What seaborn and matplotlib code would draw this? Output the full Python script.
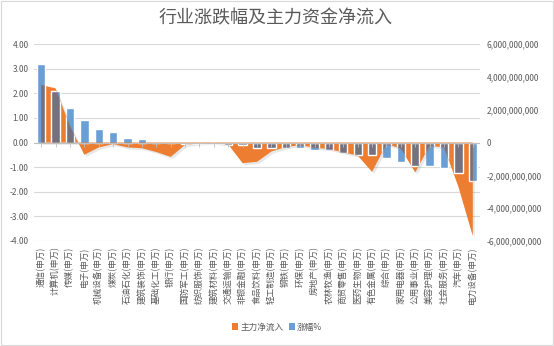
import numpy as np
import pandas as pd
import matplotlib
matplotlib.use("Agg")
import matplotlib.pyplot as plt
import matplotlib.patheffects as pe
from matplotlib.patches import Rectangle, Patch
from matplotlib.ticker import FuncFormatter
import seaborn as sns

categories = ["通信(申万)", "计算机(申万)", "传媒(申万)", "电子(申万)", "机械设备(申万)",
              "煤炭(申万)", "石油石化(申万)", "建筑装饰(申万)", "基础化工(申万)", "银行(申万)",
              "国防军工(申万)", "纺织服饰(申万)", "建筑材料(申万)", "交通运输(申万)", "非银金融(申万)",
              "食品饮料(申万)", "轻工制造(申万)", "钢铁(申万)", "环保(申万)", "房地产(申万)",
              "农林牧渔(申万)", "商贸零售(申万)", "医药生物(申万)", "有色金属(申万)", "综合(申万)",
              "家用电器(申万)", "公用事业(申万)", "美容护理(申万)", "社会服务(申万)", "汽车(申万)",
              "电力设备(申万)"]
pct_change = [3.18, 2.10, 1.42, 0.91, 0.54, 0.43, 0.18, 0.15, -0.04, -0.03,
              -0.08, -0.08, -0.08, -0.10, -0.10, -0.23, -0.24, -0.24, -0.24, -0.30,
              -0.30, -0.43, -0.51, -0.51, -0.61, -0.81, -0.95, -0.95, -1.04, -1.22,
              -1.56]
net_inflow = [3.5e9, 3.3e9, 1.0e9, -0.75e9, -0.3e9, -0.1e9, -0.3e9, -0.35e9, -0.58e9, -0.88e9,
              -0.15e9, -0.05e9, -0.02e9, -0.12e9, -1.26e9, -1.18e9, -0.55e9, -0.28e9, -0.16e9, -0.32e9,
              -0.4e9, -0.6e9, -0.8e9, -1.79e9, -0.1e9, -0.37e9, -1.83e9, -0.2e9, -0.3e9, -2.7e9,
              -5.7e9]
left_ticks = [-4, -3, -2, -1, 0, 1, 2, 3, 4]
right_ticks = [-6e9, -4e9, -2e9, 0, 2e9, 4e9, 6e9]

title = "行业涨跌幅及主力资金净流入"
legend_labels = ["主力净流入", "涨幅%"]

BLUE = "#6A9FD6"
ORANGE = "#ED7D31"
GRAY_OVER = "#75717E"
TXT = "#595959"
GRID = "#D9D9D9"

sns.set_style("white")
plt.rcParams["font.family"] = ["Noto Sans CJK SC", "DejaVu Sans"]
plt.rcParams["axes.unicode_minus"] = False

df = pd.DataFrame({"行业": categories, "涨幅": pct_change, "净流入": net_inflow})
n = len(categories)
xpos = np.arange(n)

fig, ax = plt.subplots(figsize=(5.54, 3.46), dpi=100)
fig.subplots_adjust(left=34 / 554, right=480 / 554, bottom=1 - 241 / 346, top=1 - 44 / 346)

# bars (left axis)
sns.barplot(data=df, x="行业", y="涨幅", color=BLUE, width=0.58, saturation=1, ax=ax, zorder=2)
ax.set_ylim(-4, 4)
ax.set_yticks(left_ticks)
ax.yaxis.set_major_formatter(FuncFormatter(lambda v, p: f"{v:.2f}"))
ax.yaxis.grid(True, color=GRID, lw=0.8, zorder=0)
ax.set_axisbelow(True)
ax.set_xlabel("")
ax.set_ylabel("")

# area (right axis)
ax2 = ax.twinx()
poly = ax2.fill_between(xpos, net_inflow, 0, color=ORANGE, lw=0, zorder=2)
poly.set_path_effects([pe.SimplePatchShadow(offset=(1.5, -1.5), shadow_rgbFace="#808080", alpha=0.18),
                       pe.Normal()])
ax2.set_ylim(-6e9, 6e9)
ax2.set_yticks(right_ticks)
ax2.yaxis.set_major_formatter(FuncFormatter(lambda v, p: f"{v:,.0f}"))

# overlapping part of bars (greyed where they lie inside the area)
ax3 = ax.twinx()
sns.barplot(data=df, x="行业", y="涨幅", color=GRAY_OVER, width=0.58, saturation=1, ax=ax3, zorder=3)
ax3.set_ylim(-4, 4)
ax3.set_yticks([])
ax3.set_ylabel("")
ax3.set_xlabel("")
clip_path = poly.get_paths()[0]
for patch in ax3.patches:
    patch.set_clip_path(clip_path, ax2.transData)
ax3.axhline(0, color="#BFBFBF", lw=0.8, zorder=4)
ax3.plot(xpos, np.zeros(n), ls="none", marker=3, ms=3, mew=0.6, color="#BFBFBF", zorder=4)

for a in (ax, ax2, ax3):
    for s in a.spines.values():
        s.set_visible(False)
    a.tick_params(length=0)

ax.set_xlim(-0.5, n - 0.5)
ax.set_xticks(xpos)
ax.set_xticklabels(categories, rotation=90, fontsize=6.2, color=TXT)
ax.tick_params(axis="x", pad=4)
ax.tick_params(axis="y", labelsize=6, labelcolor=TXT, pad=4)
ax2.tick_params(axis="y", labelsize=6, labelcolor=TXT, pad=5)

fig.text(0.497, 1 - 18 / 346, title, ha="center", va="center", fontsize=13, color=TXT)

handles = [Patch(facecolor=ORANGE, edgecolor="none"), Patch(facecolor=BLUE, edgecolor="none")]
fig.legend(handles, legend_labels, loc="center", bbox_to_anchor=(0.5, 1 - 327 / 346), ncol=2,
           frameon=False, fontsize=6.2, handlelength=0.7, handleheight=0.7,
           handletextpad=0.3, columnspacing=0.6, labelcolor=TXT)

fig.patches.append(Rectangle((0.002, 0.003), 0.996, 0.994, transform=fig.transFigure,
                             fill=False, edgecolor="#D9D9D9", lw=0.8))

fig.savefig("out.png", dpi=100)
